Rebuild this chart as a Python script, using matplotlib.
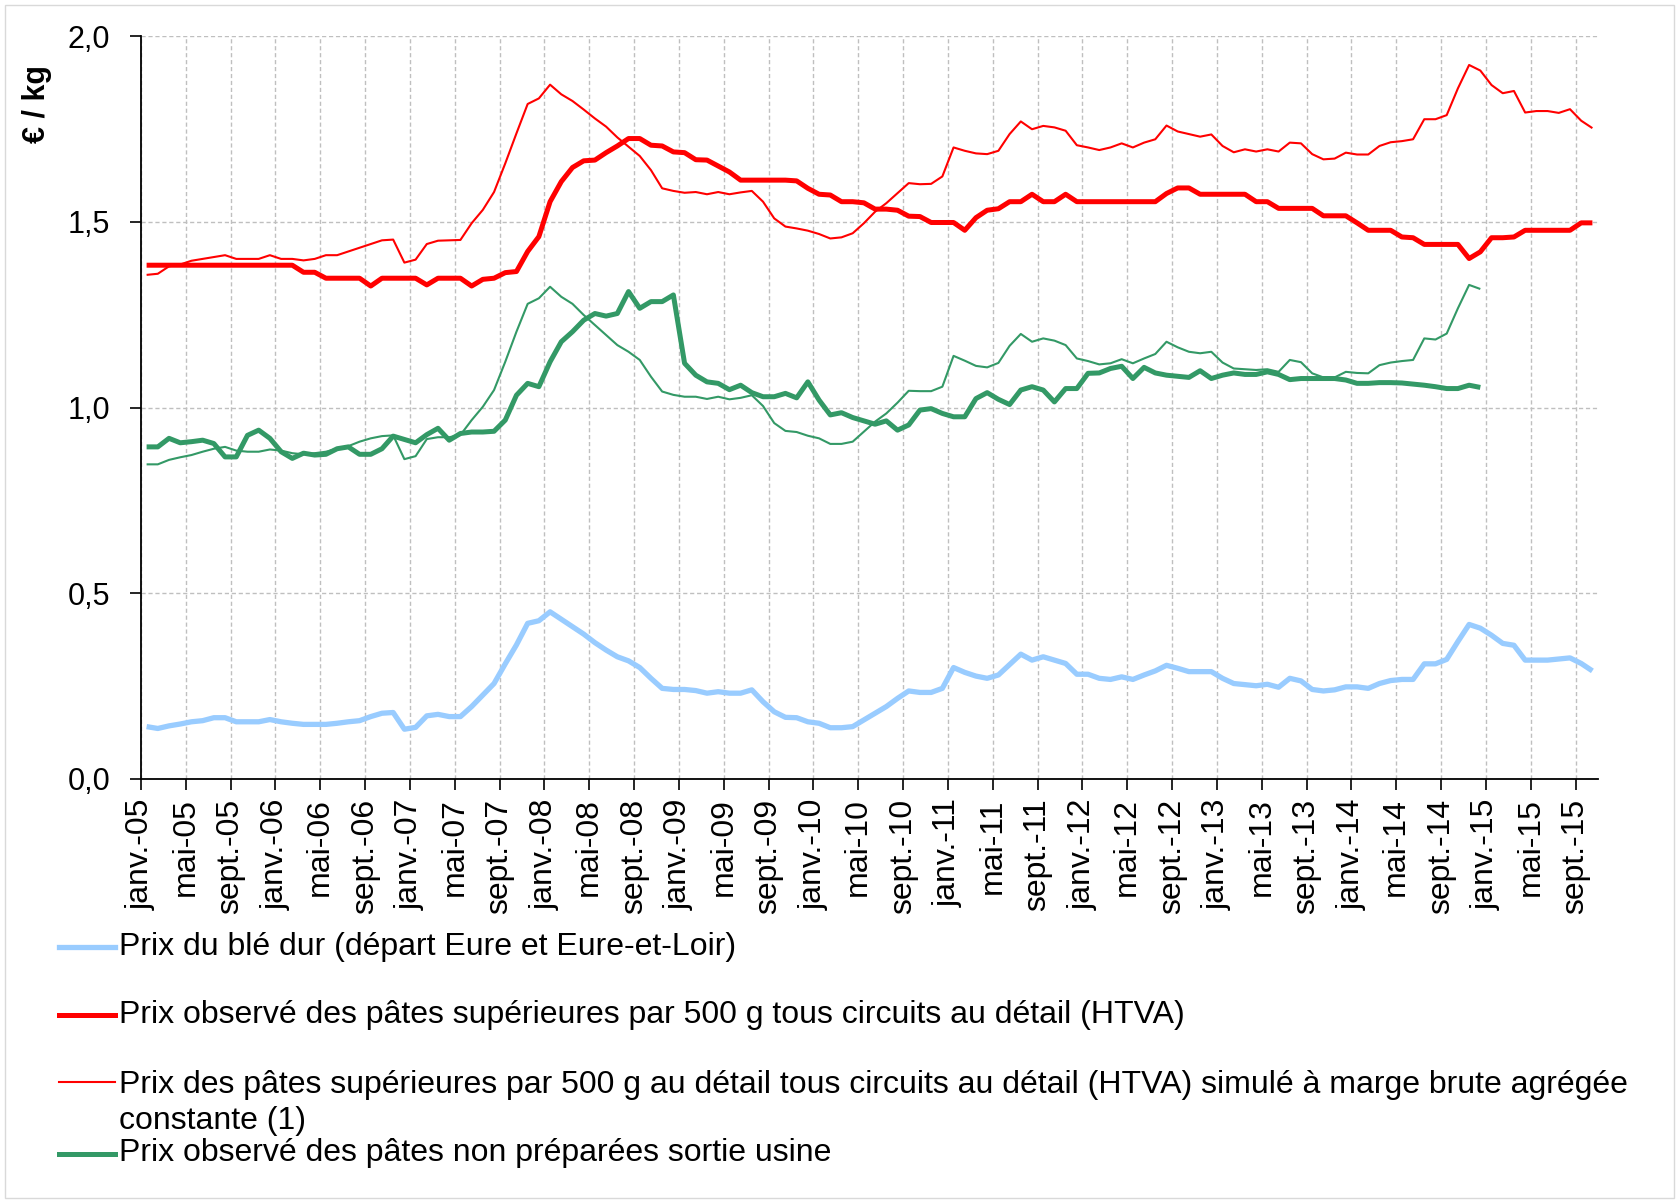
import matplotlib
matplotlib.use("Agg")
import matplotlib.pyplot as plt
from matplotlib.lines import Line2D
from matplotlib.patches import Rectangle
import numpy as np

plt.rcParams['font.family'] = ['Liberation Sans', 'DejaVu Sans']

# ---------------- data (monthly, janv.-05 ...) ----------------
tick_labels = ['janv.-05', 'mai-05', 'sept.-05', 'janv.-06', 'mai-06', 'sept.-06',
               'janv.-07', 'mai-07', 'sept.-07', 'janv.-08', 'mai-08', 'sept.-08',
               'janv.-09', 'mai-09', 'sept.-09', 'janv.-10', 'mai-10', 'sept.-10',
               'janv.-11', 'mai-11', 'sept.-11', 'janv.-12', 'mai-12', 'sept.-12',
               'janv.-13', 'mai-13', 'sept.-13', 'janv.-14', 'mai-14', 'sept.-14',
               'janv.-15', 'mai-15', 'sept.-15']

ble_dur = [0.141, 0.136, 0.143, 0.148, 0.154, 0.157, 0.165, 0.165, 0.154, 0.154,
           0.154, 0.160, 0.154, 0.150, 0.147, 0.147, 0.147, 0.150, 0.154, 0.157,
           0.168, 0.177, 0.179, 0.134, 0.139, 0.170, 0.174, 0.168, 0.168, 0.195,
           0.226, 0.257, 0.310, 0.361, 0.419, 0.426, 0.450, 0.430, 0.410, 0.390,
           0.367, 0.347, 0.329, 0.318, 0.300, 0.271, 0.244, 0.241, 0.241, 0.238,
           0.231, 0.235, 0.231, 0.231, 0.240, 0.208, 0.181, 0.166, 0.165, 0.154,
           0.150, 0.138, 0.138, 0.141, 0.159, 0.177, 0.195, 0.217, 0.237, 0.233,
           0.233, 0.244, 0.300, 0.287, 0.277, 0.271, 0.280, 0.308, 0.336, 0.320,
           0.329, 0.320, 0.311, 0.282, 0.282, 0.271, 0.268, 0.275, 0.268, 0.280,
           0.291, 0.306, 0.298, 0.289, 0.289, 0.289, 0.271, 0.257, 0.254, 0.251,
           0.255, 0.247, 0.271, 0.264, 0.241, 0.237, 0.240, 0.248, 0.248, 0.244,
           0.257, 0.265, 0.268, 0.268, 0.310, 0.310, 0.322, 0.370, 0.416, 0.406,
           0.387, 0.365, 0.360, 0.320, 0.320, 0.320, 0.323, 0.326, 0.311, 0.291]

pates_obs = [1.383, 1.383, 1.383, 1.383, 1.383, 1.383, 1.383, 1.383, 1.383, 1.383,
             1.383, 1.383, 1.383, 1.383, 1.364, 1.364, 1.348, 1.348, 1.348, 1.348,
             1.327, 1.348, 1.348, 1.348, 1.348, 1.330, 1.348, 1.348, 1.348, 1.327,
             1.345, 1.348, 1.363, 1.366, 1.420, 1.460, 1.554, 1.608, 1.646, 1.664,
             1.666, 1.686, 1.704, 1.724, 1.724, 1.706, 1.704, 1.688, 1.686, 1.667,
             1.666, 1.650, 1.634, 1.612, 1.612, 1.612, 1.612, 1.612, 1.610, 1.590,
             1.574, 1.572, 1.554, 1.554, 1.551, 1.534, 1.534, 1.531, 1.515, 1.514,
             1.498, 1.498, 1.498, 1.477, 1.511, 1.531, 1.535, 1.554, 1.554, 1.574,
             1.554, 1.554, 1.574, 1.554, 1.554, 1.554, 1.554, 1.554, 1.554, 1.554,
             1.554, 1.576, 1.591, 1.591, 1.574, 1.574, 1.574, 1.574, 1.574, 1.554,
             1.554, 1.536, 1.536, 1.536, 1.536, 1.516, 1.516, 1.516, 1.497, 1.477,
             1.477, 1.477, 1.459, 1.457, 1.439, 1.439, 1.439, 1.439, 1.401, 1.419,
             1.457, 1.457, 1.459, 1.477, 1.477, 1.477, 1.477, 1.477, 1.497, 1.497]

pates_sim = [1.357, 1.360, 1.380, 1.385, 1.395, 1.400, 1.405, 1.410, 1.400, 1.400,
             1.400, 1.410, 1.400, 1.400, 1.396, 1.400, 1.410, 1.410, 1.420, 1.430,
             1.440, 1.450, 1.452, 1.390, 1.398, 1.440, 1.449, 1.450, 1.451, 1.496,
             1.532, 1.580, 1.657, 1.738, 1.817, 1.832, 1.869, 1.843, 1.825, 1.802,
             1.778, 1.756, 1.727, 1.702, 1.677, 1.639, 1.590, 1.583, 1.578, 1.580,
             1.574, 1.580, 1.574, 1.579, 1.583, 1.554, 1.509, 1.487, 1.482, 1.476,
             1.467, 1.455, 1.458, 1.469, 1.496, 1.527, 1.550, 1.577, 1.604, 1.601,
             1.602, 1.622, 1.700, 1.691, 1.684, 1.682, 1.691, 1.736, 1.770, 1.749,
             1.758, 1.754, 1.745, 1.706, 1.700, 1.693, 1.700, 1.711, 1.700, 1.713,
             1.722, 1.759, 1.743, 1.736, 1.729, 1.735, 1.704, 1.687, 1.695, 1.689,
             1.695, 1.689, 1.713, 1.711, 1.682, 1.668, 1.670, 1.686, 1.681, 1.681,
             1.704, 1.714, 1.717, 1.722, 1.776, 1.776, 1.787, 1.859, 1.922, 1.907,
             1.868, 1.846, 1.852, 1.794, 1.798, 1.798, 1.793, 1.803, 1.772, 1.752]

usine_obs = [0.894, 0.894, 0.917, 0.905, 0.908, 0.912, 0.903, 0.867, 0.867, 0.925,
             0.939, 0.917, 0.881, 0.863, 0.877, 0.872, 0.874, 0.889, 0.894, 0.874,
             0.874, 0.889, 0.923, 0.914, 0.905, 0.927, 0.944, 0.912, 0.930, 0.934,
             0.934, 0.936, 0.966, 1.033, 1.065, 1.056, 1.123, 1.177, 1.204, 1.235,
             1.253, 1.246, 1.253, 1.312, 1.267, 1.285, 1.285, 1.303, 1.119, 1.087,
             1.069, 1.065, 1.048, 1.060, 1.040, 1.029, 1.029, 1.038, 1.026, 1.069,
             1.020, 0.980, 0.986, 0.973, 0.964, 0.955, 0.964, 0.939, 0.953, 0.993,
             0.997, 0.984, 0.975, 0.975, 1.024, 1.040, 1.022, 1.008, 1.047, 1.056,
             1.047, 1.015, 1.051, 1.051, 1.092, 1.093, 1.105, 1.111, 1.078, 1.108,
             1.093, 1.087, 1.084, 1.081, 1.099, 1.078, 1.087, 1.093, 1.089, 1.089,
             1.096, 1.089, 1.075, 1.078, 1.078, 1.078, 1.078, 1.074, 1.065, 1.065,
             1.067, 1.067, 1.066, 1.063, 1.060, 1.056, 1.051, 1.051, 1.060, 1.054]

usine_sim = [0.847, 0.847, 0.859, 0.866, 0.872, 0.881, 0.889, 0.894, 0.884, 0.881,
             0.881, 0.887, 0.884, 0.877, 0.874, 0.877, 0.881, 0.889, 0.896, 0.908,
             0.917, 0.923, 0.925, 0.861, 0.869, 0.915, 0.920, 0.920, 0.926, 0.966,
             1.002, 1.047, 1.123, 1.204, 1.279, 1.294, 1.325, 1.298, 1.279, 1.249,
             1.222, 1.195, 1.168, 1.150, 1.128, 1.083, 1.043, 1.034, 1.029, 1.029,
             1.023, 1.029, 1.022, 1.026, 1.033, 1.004, 0.958, 0.937, 0.934, 0.924,
             0.917, 0.902, 0.902, 0.908, 0.935, 0.962, 0.984, 1.013, 1.045, 1.044,
             1.044, 1.056, 1.139, 1.126, 1.112, 1.108, 1.120, 1.166, 1.198, 1.177,
             1.186, 1.180, 1.168, 1.132, 1.125, 1.116, 1.119, 1.130, 1.119, 1.132,
             1.144, 1.177, 1.162, 1.150, 1.146, 1.150, 1.121, 1.105, 1.103, 1.101,
             1.103, 1.096, 1.128, 1.122, 1.092, 1.081, 1.081, 1.096, 1.093, 1.092,
             1.114, 1.121, 1.125, 1.128, 1.186, 1.183, 1.199, 1.267, 1.330, 1.319]

legend_labels = [
    "Prix du blé dur (départ Eure et Eure-et-Loir)",
    "Prix observé des pâtes supérieures par 500 g tous circuits au détail (HTVA)",
    "Prix des pâtes supérieures par 500 g au détail tous circuits au détail (HTVA) simulé à marge brute agrégée\nconstante (1)",
    "Prix observé des pâtes non préparées sortie usine",
]

# ---------------- styles ----------------
BLUE = '#99CCFF'
RED = '#FF0000'
GREEN = '#339966'

W, H = 1679, 1203
fig = plt.figure(figsize=(W / 100, H / 100), dpi=100)
fig.patch.set_facecolor('white')

left, right, top, bottom = 141, 1598, 36, 779
ax = fig.add_axes([left / W, 1 - bottom / H, (right - left) / W, (bottom - top) / H])

def xs(n):
    return np.arange(n) + 0.5

kw = dict(solid_joinstyle='round', solid_capstyle='butt')
ax.plot(xs(len(ble_dur)), ble_dur, color=BLUE, lw=3.8, **kw, zorder=3)
ax.plot(xs(len(pates_obs)), pates_obs, color=RED, lw=3.6, **kw, zorder=4)
ax.plot(xs(len(pates_sim)), pates_sim, color=RED, lw=1.5, **kw, zorder=5)
ax.plot(xs(len(usine_obs)), usine_obs, color=GREEN, lw=3.6, **kw, zorder=6)
ax.plot(xs(len(usine_sim)), usine_sim, color=GREEN, lw=1.5, **kw, zorder=7)

ax.set_xlim(0, 130)
ax.set_ylim(0, 2.0)
ax.set_yticks([0, 0.5, 1.0, 1.5, 2.0])
ax.set_yticklabels(['0,0', '0,5', '1,0', '1,5', '2,0'])
ax.set_xticks(np.arange(0, 4 * len(tick_labels), 4))
ax.set_xticklabels(tick_labels, rotation=90)

ax.tick_params(axis='y', direction='out', length=8, width=1.2, pad=14, labelsize=22)
ax.tick_params(axis='x', direction='out', length=8, width=1.2, pad=6, labelsize=23)

ax.grid(True, color='#BFBFBF', linestyle=(0, (3, 2)), linewidth=1.0)
ax.set_axisbelow(True)
for s in ['top', 'right']:
    ax.spines[s].set_visible(False)
for s in ['left', 'bottom']:
    ax.spines[s].set_linewidth(1.3)
    ax.spines[s].set_zorder(10)

fig.text(37.5 / W, 1 - 104 / H, '€ / kg', rotation=90, fontweight='bold',
         ha='center', va='center', fontsize=22)

# ---------------- legend (manual, in figure pixels) ----------------
leg_rows = [947, 1014.5, 1081.7, 1153.5]
leg_styles = [(BLUE, 3.8), (RED, 3.6), (RED, 1.5), (GREEN, 3.6)]
for y, (c, lw), lab in zip(leg_rows, leg_styles, legend_labels):
    fy = 1 - y / H
    fig.add_artist(Line2D([59 / W, 115 / W], [fy, fy], color=c, lw=lw,
                          transform=fig.transFigure))
    if '\n' in lab:
        fig.text(119 / W, 1 - (y - 12) / H, lab, ha='left', va='top',
                 fontsize=23, linespacing=1.27)
    else:
        fig.text(119 / W, fy, lab, ha='left', va='center', fontsize=23)

fig.add_artist(Rectangle((5 / W, 5 / H), (W - 10) / W, (H - 10) / H,
                         transform=fig.transFigure, fill=False,
                         edgecolor='#D9D9D9', lw=1.0))

fig.savefig('out.png', dpi=100)
